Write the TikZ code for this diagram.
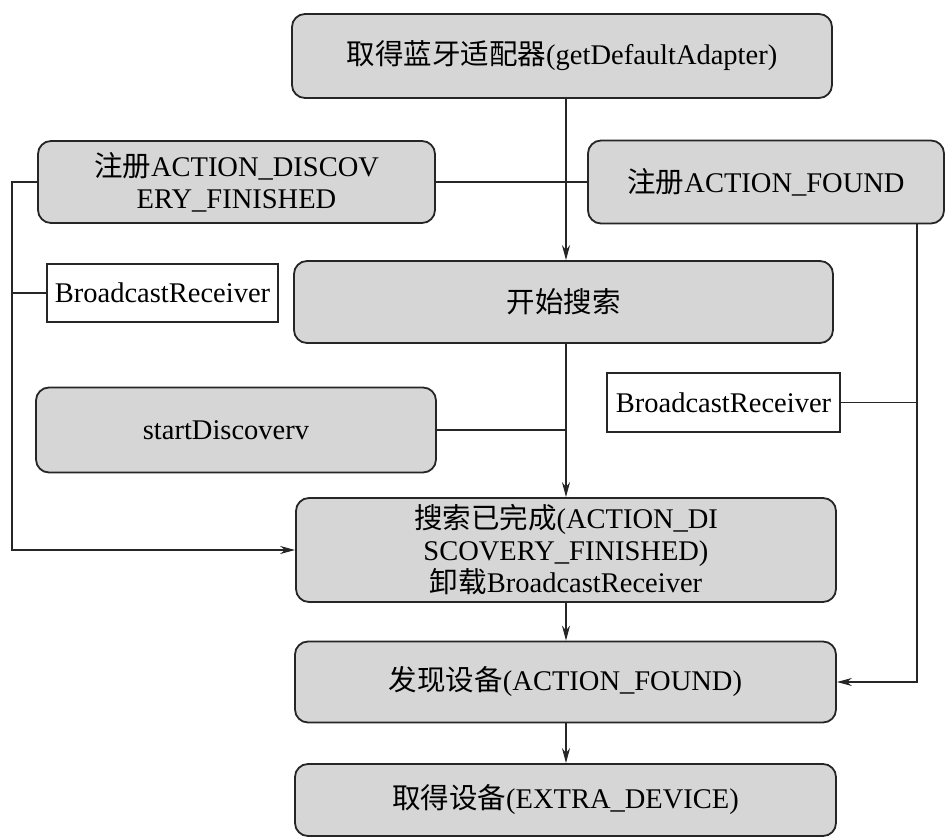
\documentclass[tikz,border=0pt]{standalone}
\usepackage{fontspec}
\setmainfont{Liberation Serif}
\newfontfamily\cjk{Noto Sans CJK SC}
\newcommand{\zh}[1]{{\cjk #1}}
\usetikzlibrary{arrows.meta}
\tikzset{
  gbox/.style={draw=black!85, line width=1.8pt, rounded corners=13pt, fill=black!16,
    inner sep=0pt, align=center, font=\fontsize{28.5}{32}\selectfont},
  wbox/.style={draw=black!85, line width=1.6pt, fill=white, inner sep=0pt,
    align=center, font=\fontsize{28.5}{32}\selectfont},
  conn/.style={draw=black!85, line width=1.6pt},
  arr/.style={conn, -{Stealth[length=15pt,width=8pt]}}
}
\begin{document}
\begin{tikzpicture}[x=1pt,y=-1pt]
\useasboundingbox (0,0) rectangle (946,837);
\coordinate (mx) at (566,0);
\coordinate (lx) at (12,0);
\coordinate (rx) at (917,0);

\node[gbox, minimum width=540pt, minimum height=84pt] (top) at (562,56) {\zh{取得蓝牙适配器}(getDefaultAdapter)};
\node[gbox, minimum width=397pt, minimum height=82pt] (disc) at (236.5,182) {\zh{注册}ACTION\_DISCOV\\ERY\_FINISHED};
\node[gbox, minimum width=356pt, minimum height=83pt] (found) at (766,182) {\zh{注册}ACTION\_FOUND};
\node[wbox, minimum width=231pt, minimum height=58pt] (brL) at (162.5,293) {BroadcastReceiver};
\node[gbox, minimum width=539pt, minimum height=82pt] (start) at (563.5,302) {\zh{开始搜索}};
\node[wbox, minimum width=233pt, minimum height=59pt] (brR) at (723.5,402.5) {BroadcastReceiver};
\node[gbox, minimum width=400pt, minimum height=85pt] (sd) at (236,430) {startDiscoverv\hspace*{20pt}};
\node[gbox, minimum width=540pt, minimum height=104pt] (done) at (566,550) {\zh{搜索已完成}(ACTION\_DI\\SCOVERY\_FINISHED)\\\zh{卸载}BroadcastReceiver};
\node[gbox, minimum width=541pt, minimum height=81pt] (dev) at (565.5,682) {\zh{发现设备}(ACTION\_FOUND)};
\node[gbox, minimum width=541pt, minimum height=72pt] (get) at (565.5,800) {\zh{取得设备}(EXTRA\_DEVICE)};

% main flow
\draw[arr] (top.south -| mx) -- (start.north -| mx);
\draw[arr] (start.south -| mx) -- (done.north -| mx);
\draw[arr] (done.south -| mx) -- (dev.north -| mx);
\draw[arr] (dev.south -| mx) -- (get.north -| mx);

% registrations
\draw[conn] (disc.east) -- (found.west);
\draw[arr] (disc.west) -- (disc.west -| lx) -- (lx |- done.west) -- (done.west);
\draw[conn] (brL.west) -- (brL.west -| lx);
\draw[conn] (sd.east) -- (sd.east -| mx);
\draw[arr] (found.south -| rx) -- (rx |- dev.east) -- (dev.east);
\draw[conn] (brR.east) -- (brR.east -| rx);
\end{tikzpicture}
\end{document}
